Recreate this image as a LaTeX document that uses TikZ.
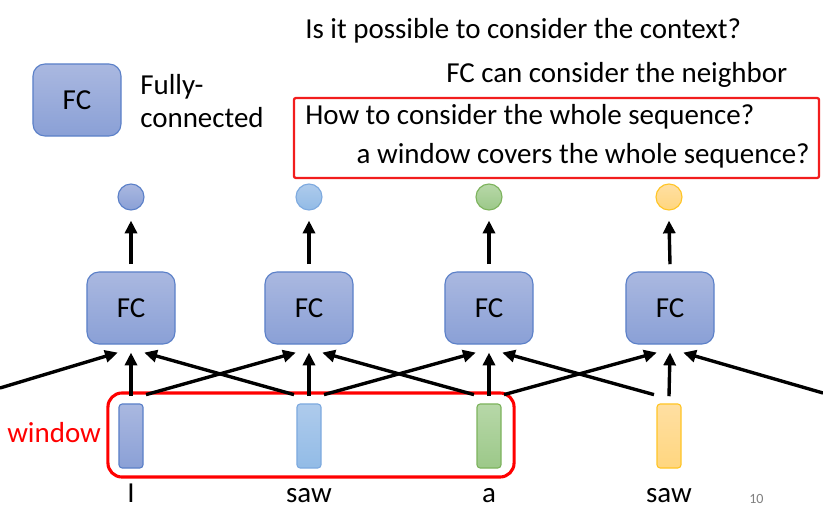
\documentclass[tikz,border=0pt]{standalone}
\usepackage{fontspec}
\setmainfont{Carlito}
\usetikzlibrary{arrows.meta}

\definecolor{fctop}{HTML}{AAB8E0}
\definecolor{fcbot}{HTML}{8AA0D6}
\definecolor{fcline}{HTML}{5B80C8}
\definecolor{lbtop}{HTML}{AECBEC}
\definecolor{lbbot}{HTML}{92BBE6}
\definecolor{lbline}{HTML}{7EAADF}
\definecolor{grtop}{HTML}{B7D8A8}
\definecolor{grbot}{HTML}{9CC889}
\definecolor{grline}{HTML}{7DB35D}
\definecolor{yetop}{HTML}{FFDFA2}
\definecolor{yebot}{HTML}{FFD67F}
\definecolor{yeline}{HTML}{FFC526}
\definecolor{boxred}{HTML}{F21D1D}

\begin{document}
\begin{tikzpicture}[x=0.025cm, y=-0.025cm,
    txt/.style={font=\fontsize{20.6}{24}\selectfont, inner sep=0pt},
    fcbox/.style={rectangle, rounded corners=0.3cm, draw=fcline, line width=0.8pt,
        top color=fctop, bottom color=fcbot, minimum width=2.2cm, minimum height=1.8cm,
        inner sep=0pt, font=\fontsize{20.6}{24}\selectfont},
    outdot/.style={circle, minimum size=0.65cm, inner sep=0pt, line width=0.8pt},
    vecbox/.style={rectangle, rounded corners=0.08cm, minimum width=0.6cm,
        minimum height=1.6cm, inner sep=0pt, line width=0.8pt},
    blues/.style={draw=fcline, top color=fctop, bottom color=fcbot},
    lightblues/.style={draw=lbline, top color=lbtop, bottom color=lbbot},
    greens/.style={draw=grline, top color=grtop, bottom color=grbot},
    yellows/.style={draw=yeline, top color=yetop, bottom color=yebot},
    arr/.style={-{Triangle[length=0.32cm, width=0.3cm]}, line width=2.4pt}]

    \useasboundingbox (0,0) rectangle (823,514);

    % Questions
    \node[txt, anchor=base west] (q1) at (305,38) {Is it possible to consider the context?};
    \node[txt, anchor=base west] (q2) at (446,82) {FC can consider the neighbor};
    \node[draw=boxred, line width=1.6pt, rounded corners=0.05cm, minimum width=13.125cm,
        minimum height=2cm] (question) at (556.5,138) {};
    \node[txt, anchor=base west] (q3) at (305,124) {How to consider the whole sequence?};
    \node[txt, anchor=base east] (q4) at (810,163) {a window covers the whole sequence?};

    % Legend
    \node[fcbox] (legend) at (77,100) {FC};
    \node[txt, anchor=base west] (fully) at (140,94) {Fully-};
    \node[txt, anchor=base west] (connected) at (140,127) {connected};

    % Draw nodes
    \node[fcbox] (fc1) at (131,308) {FC};
    \node[fcbox] (fc2) at (309,308) {FC};
    \node[fcbox] (fc3) at (489,308) {FC};
    \node[fcbox] (fc4) at (670,308) {FC};

    \node[outdot, blues] (out1) at (131,197) {};
    \node[outdot, lightblues] (out2) at (309,197) {};
    \node[outdot, greens] (out3) at (489,197) {};
    \node[outdot, yellows] (out4) at (669,197) {};

    \node[draw=red, line width=2.2pt, rounded corners=0.35cm, minimum width=10.15cm,
        minimum height=2.1cm] (window) at (311,435) {};
    \node[vecbox, blues] (vec1) at (131,436) {};
    \node[vecbox, lightblues] (vec2) at (309,436) {};
    \node[vecbox, greens] (vec3) at (489,436) {};
    \node[vecbox, yellows] (vec4) at (669,436) {};

    % Draw connections
    \draw[arr] ([yshift=0.18cm]fc1.north) -- ([yshift=-0.25cm]out1.south);
    \draw[arr] ([yshift=0.18cm]fc2.north) -- ([yshift=-0.25cm]out2.south);
    \draw[arr] ([yshift=0.18cm]fc3.north) -- ([yshift=-0.25cm]out3.south);
    \draw[arr] ([yshift=0.18cm]fc4.north) -- ([yshift=-0.25cm]out4.south);

    \draw[arr] ([yshift=0.18cm]vec1.north) -- ([yshift=-0.2cm]fc1.south);
    \draw[arr] ([yshift=0.18cm]vec2.north) -- ([yshift=-0.2cm]fc2.south);
    \draw[arr] ([yshift=0.18cm]vec3.north) -- ([yshift=-0.2cm]fc3.south);
    \draw[arr] ([yshift=0.18cm]vec4.north) -- ([yshift=-0.2cm]fc4.south);

    \coordinate (offleft) at (0,388);
    \coordinate (offright) at (823,393);
    \draw[arr] (offleft) -- ([xshift=-0.33cm, yshift=-0.2cm]fc1.south);
    \draw[arr] ([xshift=0.375cm, yshift=0.22cm]vec1.north) -- ([xshift=-0.33cm, yshift=-0.2cm]fc2.south);
    \draw[arr] ([xshift=0.375cm, yshift=0.22cm]vec2.north) -- ([xshift=-0.33cm, yshift=-0.2cm]fc3.south);
    \draw[arr] ([xshift=0.375cm, yshift=0.22cm]vec3.north) -- ([xshift=-0.33cm, yshift=-0.2cm]fc4.south);
    \draw[arr] ([xshift=-0.375cm, yshift=0.22cm]vec2.north) -- ([xshift=0.33cm, yshift=-0.2cm]fc1.south);
    \draw[arr] ([xshift=-0.375cm, yshift=0.22cm]vec3.north) -- ([xshift=0.33cm, yshift=-0.2cm]fc2.south);
    \draw[arr] ([xshift=-0.375cm, yshift=0.22cm]vec4.north) -- ([xshift=0.33cm, yshift=-0.2cm]fc3.south);
    \draw[arr] (offright) -- ([xshift=0.33cm, yshift=-0.2cm]fc4.south);

    % Labels
    \node[txt, anchor=base west, text=red] (windowlabel) at (7,442) {window};
    \node[txt, anchor=base] (word1) at (131,502) {I};
    \node[txt, anchor=base] (word2) at (309,502) {saw};
    \node[txt, anchor=base] (word3) at (489,502) {a};
    \node[txt, anchor=base] (word4) at (669,502) {saw};
    \node[inner sep=0pt, anchor=base west, text=gray, font=\fontsize{10}{12}\selectfont] (page) at (749,503) {10};
\end{tikzpicture}
\end{document}
